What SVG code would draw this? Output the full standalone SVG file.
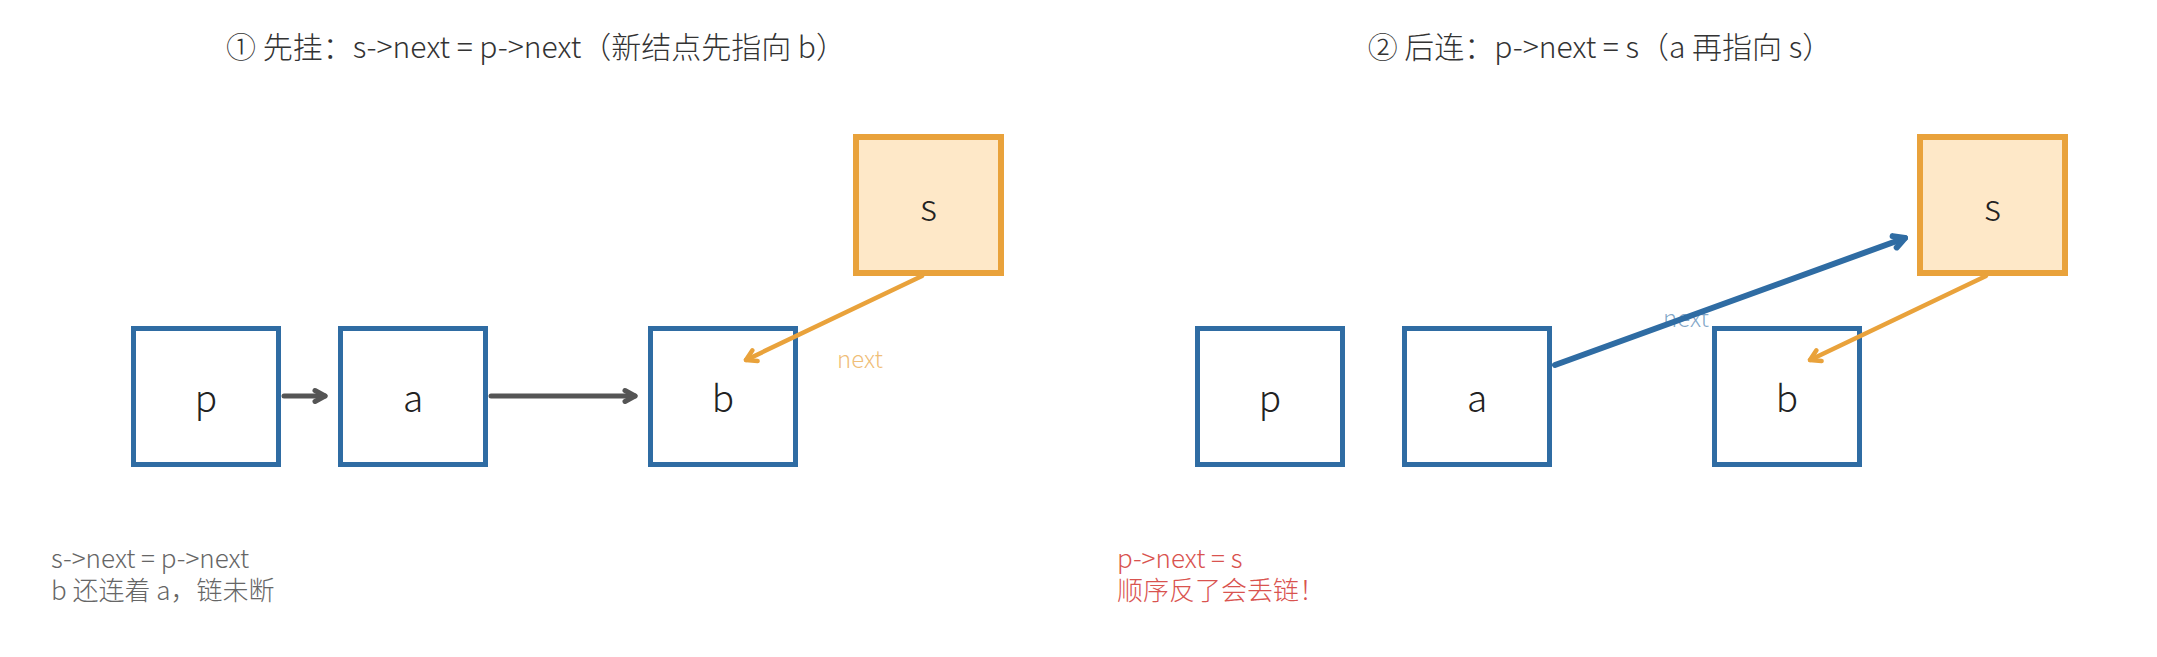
<svg xmlns="http://www.w3.org/2000/svg" width="2157" height="657" viewBox="0 0 2157 657">
<style>
  text { font-family: "Noto Sans CJK SC Light", "Noto Sans CJK SC DemiLight", "Noto Sans CJK SC", "Noto Sans", sans-serif; font-weight: 300; }
  .title { font-size: 30px; fill: #333333; text-anchor: middle; }
  .lbl { font-size: 37px; fill: #222222; text-anchor: middle; dominant-baseline: central; }
  .node { fill: #ffffff; stroke: #2F6CA3; stroke-width: 5; }
  .snode { fill: #FEE8C8; stroke: #E9A23B; stroke-width: 6; }
  .gray { stroke: #555555; stroke-width: 5; fill: none; stroke-linecap: round; marker-end: url(#mGray); }
  .orange { stroke: #E9A23B; stroke-width: 4.5; fill: none; stroke-linecap: round; marker-end: url(#mOrange); }
  .blue { stroke: #2F6CA3; stroke-width: 6; fill: none; stroke-linecap: round; marker-end: url(#mBlue); }
  .elabel { font-size: 24px; }
  .note1 { font-size: 26px; fill: #666666; }
  .note2 { font-size: 26px; fill: #D9534F; }
</style>
<defs>
  <marker id="mGray" markerUnits="userSpaceOnUse" markerWidth="24" markerHeight="24" refX="15" refY="10" orient="auto" overflow="visible">
    <path d="M5,4.5 L15,10 L5,15.5" fill="none" stroke="#555555" stroke-width="5" stroke-linejoin="round" stroke-linecap="round"/>
  </marker>
  <marker id="mOrange" markerUnits="userSpaceOnUse" markerWidth="24" markerHeight="24" refX="15" refY="10" orient="auto" overflow="visible">
    <path d="M5,4 L15,10 L5,16" fill="none" stroke="#E9A23B" stroke-width="4.5" stroke-linejoin="round" stroke-linecap="round"/>
  </marker>
  <marker id="mBlue" markerUnits="userSpaceOnUse" markerWidth="24" markerHeight="24" refX="15" refY="10" orient="auto" overflow="visible">
    <path d="M4,4 L15,10 L4,16" fill="none" stroke="#2F6CA3" stroke-width="6" stroke-linejoin="round" stroke-linecap="round"/>
  </marker>
</defs>
<rect width="2157" height="657" fill="#ffffff"/>

<text class="title" x="536" y="58">① 先挂：s-&gt;next = p-&gt;next（新结点先指向 b）</text>
<text class="title" x="1600" y="58">② 后连：p-&gt;next = s（a 再指向 s）</text>

<g id="left-p"><rect class="node" x="133.5" y="328.5" width="145" height="136"/><text class="lbl" x="206" y="396">p</text></g>
<g id="left-a"><rect class="node" x="340.5" y="328.5" width="145" height="136"/><text class="lbl" x="413" y="396">a</text></g>
<g id="left-b"><rect class="node" x="650.5" y="328.5" width="145" height="136"/><text class="lbl" x="723" y="396">b</text></g>
<g id="left-s"><rect class="snode" x="856" y="137" width="145" height="136"/><text class="lbl" x="928.5" y="205">s</text></g>

<g id="right-p"><rect class="node" x="1197.5" y="328.5" width="145" height="136"/><text class="lbl" x="1270" y="396">p</text></g>
<g id="right-a"><rect class="node" x="1404.5" y="328.5" width="145" height="136"/><text class="lbl" x="1477" y="396">a</text></g>
<g id="right-b"><rect class="node" x="1714.5" y="328.5" width="145" height="136"/><text class="lbl" x="1787" y="396">b</text></g>
<g id="right-s"><rect class="snode" x="1920" y="137" width="145" height="136"/><text class="lbl" x="1992.5" y="205">s</text></g>

<g id="connectors">
  <line class="gray" x1="284" y1="396" x2="325" y2="396"/>
  <line class="gray" x1="491" y1="396" x2="635" y2="396"/>
  <line class="orange" x1="922" y1="276" x2="746" y2="360"/>
  <line class="blue" x1="1555" y1="365" x2="1905" y2="238"/>
  <line class="orange" x1="1986" y1="276" x2="1810" y2="360"/>
  <text class="elabel" x="837" y="368" fill="#E9A23B" fill-opacity="0.7">next</text>
  <text class="elabel" x="1663" y="327" fill="#2F6CA3" fill-opacity="0.6">next</text>
</g>

<g id="note-left">
  <text class="note1" x="51" y="568">s-&gt;next = p-&gt;next</text>
  <text class="note1" x="51" y="600">b 还连着 a，链未断</text>
</g>
<g id="note-right">
  <text class="note2" x="1117" y="568">p-&gt;next = s</text>
  <text class="note2" x="1117" y="600">顺序反了会丢链！</text>
</g>
</svg>
